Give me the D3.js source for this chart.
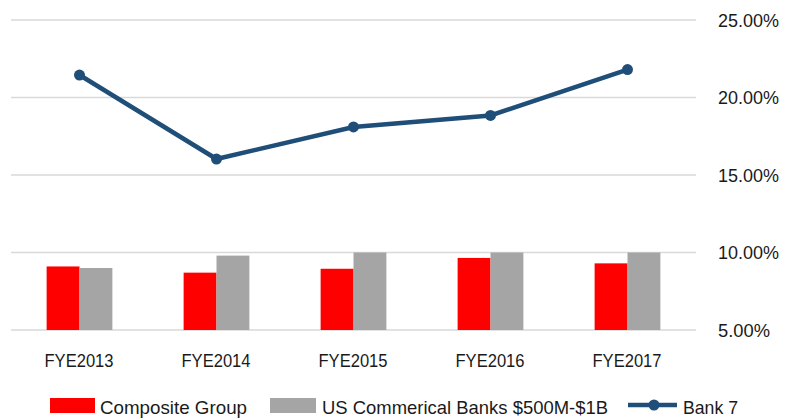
<!DOCTYPE html>
<html lang="en">
<head>
    <meta charset="UTF-8">
    <script src="https://cdnjs.cloudflare.com/ajax/libs/d3/7.8.5/d3.min.js"></script>
    <style>
        body { margin: 0; background: #fff; }
        text { font-family: "Liberation Sans", Arial, sans-serif; fill: #1a1a1a; font-size: 19px; }
    </style>
</head>
<body>
    <script>
        // values (percent)
        var years = ["FYE2013", "FYE2014", "FYE2015", "FYE2016", "FYE2017"];
        var composite = [9.1, 8.7, 8.95, 9.65, 9.3];
        var usBanks = [9.0, 9.8, 10.0, 10.0, 10.0];
        var bank7 = [21.45, 16.03, 18.1, 18.84, 21.8];
        var yTicks = [5, 10, 15, 20, 25];
        var seriesNames = ["Composite Group", "US Commerical Banks $500M-$1B", "Bank 7"];

        var width = 791, height = 420;
        var svg = d3.select("body").append("svg")
            .attr("width", width)
            .attr("height", height);

        var x = d3.scaleBand().domain(years).range([11, 696])
            .paddingInner(0.52).paddingOuter(0.26);
        var x1 = d3.scaleBand().domain([0, 1]).range([0, x.bandwidth()]);
        var y = d3.scaleLinear().domain([5, 25]).range([330, 20]);

        // gridlines + right labels
        svg.selectAll(".grid").data(yTicks).enter().append("line")
            .attr("class", "grid")
            .attr("x1", 11).attr("x2", 696)
            .attr("y1", d => y(d)).attr("y2", d => y(d))
            .attr("stroke", "#d9d9d9").attr("stroke-width", 1.5);

        svg.selectAll(".ylab").data(yTicks).enter().append("text")
            .attr("class", "ylab")
            .attr("x", 718)
            .attr("y", d => y(d))
            .attr("dy", "0.35em")
            .attr("textLength", d => d >= 10 ? 61 : 52)
            .attr("lengthAdjust", "spacingAndGlyphs")
            .text(d => d.toFixed(2) + "%");

        // bars
        var barData = [];
        years.forEach(function(yr, i) {
            barData.push({ year: yr, s: 0, v: composite[i] });
            barData.push({ year: yr, s: 1, v: usBanks[i] });
        });
        svg.selectAll(".bar").data(barData).enter().append("rect")
            .attr("class", "bar")
            .attr("x", d => x(d.year) + x1(d.s))
            .attr("width", x1.bandwidth())
            .attr("y", d => y(d.v))
            .attr("height", d => y(5) - y(d.v))
            .attr("fill", d => d.s === 0 ? "#ff0000" : "#a5a5a5");

        // Bank 7 line
        var line = d3.line()
            .x((d, i) => x(years[i]) + x.bandwidth() / 2)
            .y(d => y(d));
        svg.append("path").datum(bank7)
            .attr("d", line)
            .attr("fill", "none")
            .attr("stroke", "#1f4e79")
            .attr("stroke-width", 4.5);
        svg.selectAll(".dot").data(bank7).enter().append("circle")
            .attr("class", "dot")
            .attr("cx", (d, i) => x(years[i]) + x.bandwidth() / 2)
            .attr("cy", d => y(d))
            .attr("r", 5.5)
            .attr("fill", "#1f4e79");

        // category labels
        svg.selectAll(".xlab").data(years).enter().append("text")
            .attr("class", "xlab")
            .attr("x", d => x(d) + x.bandwidth() / 2 - 35)
            .attr("y", 360)
            .attr("dy", "0.35em")
            .attr("textLength", 69)
            .attr("lengthAdjust", "spacingAndGlyphs")
            .text(d => d);

        // legend
        var lg = svg.append("g");
        lg.append("rect").attr("x", 50).attr("y", 398).attr("width", 45).attr("height", 15).attr("fill", "#ff0000");
        lg.append("text").attr("x", 100).attr("y", 407).attr("dy", "0.35em")
            .attr("textLength", 147).attr("lengthAdjust", "spacingAndGlyphs").text(seriesNames[0]);
        lg.append("rect").attr("x", 270).attr("y", 398).attr("width", 46).attr("height", 15).attr("fill", "#a5a5a5");
        lg.append("text").attr("x", 322).attr("y", 407).attr("dy", "0.35em")
            .attr("textLength", 286).attr("lengthAdjust", "spacingAndGlyphs").text(seriesNames[1]);
        lg.append("line").attr("x1", 628).attr("x2", 677).attr("y1", 405).attr("y2", 405)
            .attr("stroke", "#1f4e79").attr("stroke-width", 4.5);
        lg.append("circle").attr("cx", 654).attr("cy", 405).attr("r", 5.5).attr("fill", "#1f4e79");
        lg.append("text").attr("x", 683).attr("y", 407).attr("dy", "0.35em")
            .attr("textLength", 55).attr("lengthAdjust", "spacingAndGlyphs").text(seriesNames[2]);
    </script>
</body>
</html>
